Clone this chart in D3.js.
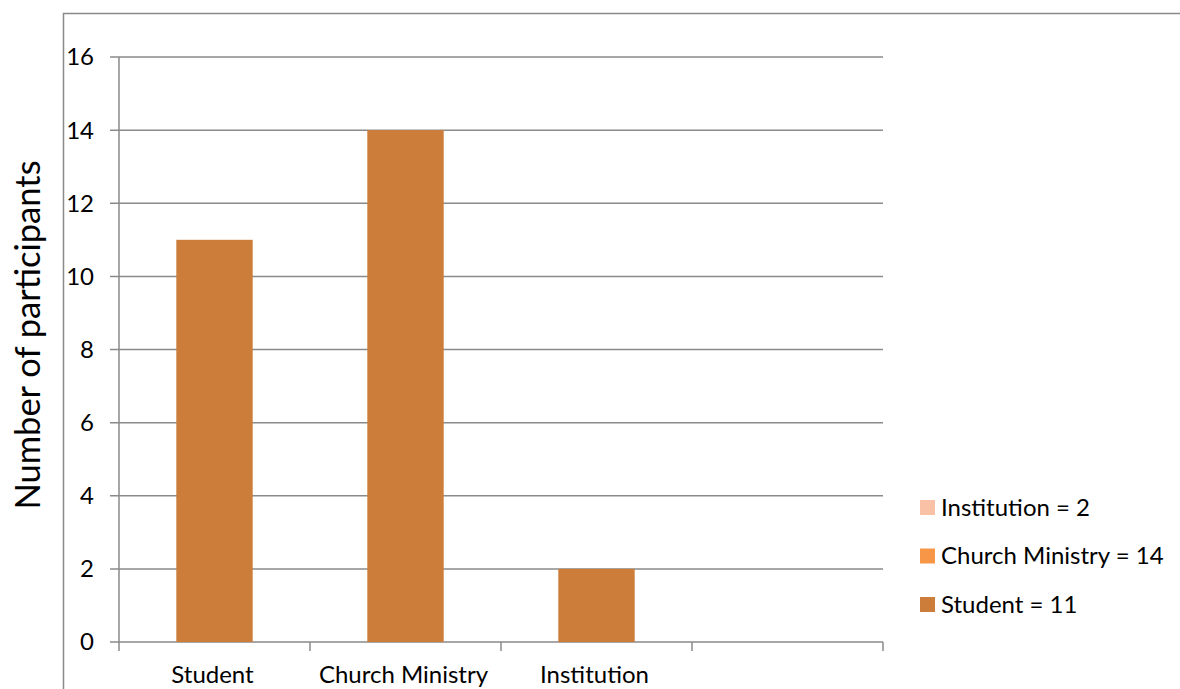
<!DOCTYPE html>
<html>
<head>
<meta charset="utf-8">
<script src="https://cdn.jsdelivr.net/npm/d3@7"></script>
<style>
  html, body { margin: 0; padding: 0; background: #fff; }
  svg { display: block; }
  text { font-family: Lato, "Open Sans", sans-serif; fill: #000; }
</style>
</head>
<body>
<svg id="chart" width="1180" height="689"></svg>
<script>
// Participants by category (fourth slot on the axis is left empty)
const categories = ["Student", "Church Ministry", "Institution", ""];
const participants = [11, 14, 2, null];
const yTicks = [0, 2, 4, 6, 8, 10, 12, 14, 16];
const legendLabels = ["Institution = 2", "Church Ministry = 14", "Student = 11"];
const legendColors = ["#f9c2a6", "#f79646", "#cd7d3a"];

(function draw() {
  const svg = d3.select("#chart");
  const plotLeft = 119, plotRight = 883, plotTop = 57, plotBottom = 642;
  const gridColor = "#8a8a8a";
  const labelSize = 24;

  // Outer chart frame (runs off the right and bottom edges)
  svg.append("path")
    .attr("d", "M63.5,700 V13.5 H1190")
    .attr("fill", "none")
    .attr("stroke", gridColor)
    .attr("stroke-width", 1.5);

  const x = d3.scaleBand().domain(categories).range([plotLeft, plotRight]).padding(0);
  const y = d3.scaleLinear().domain([0, 16]).range([plotBottom, plotTop]);

  // Horizontal gridlines with outward ticks
  svg.append("g").selectAll("line").data(yTicks).join("line")
    .attr("x1", plotLeft - 9).attr("x2", plotRight)
    .attr("y1", d => y(d)).attr("y2", d => y(d))
    .attr("stroke", gridColor).attr("stroke-width", 1.5);

  // Y axis line
  svg.append("line")
    .attr("x1", plotLeft).attr("x2", plotLeft)
    .attr("y1", plotTop).attr("y2", plotBottom)
    .attr("stroke", gridColor).attr("stroke-width", 1.5);

  // X axis category boundary ticks
  const boundaries = categories.map(c => x(c)).concat([plotRight]);
  svg.append("g").selectAll("line").data(boundaries).join("line")
    .attr("x1", d => d).attr("x2", d => d)
    .attr("y1", plotBottom).attr("y2", plotBottom + 9)
    .attr("stroke", gridColor).attr("stroke-width", 1.5);

  // Bars
  const barW = x.bandwidth() * 0.4;
  svg.append("g").selectAll("rect")
    .data(categories.map((c, i) => ({c, v: participants[i]})).filter(d => d.v != null))
    .join("rect")
    .attr("x", d => x(d.c) + x.bandwidth() / 2 - barW / 2)
    .attr("width", barW)
    .attr("y", d => y(d.v))
    .attr("height", d => y(0) - y(d.v))
    .attr("fill", "#cd7d3a");

  // Y tick labels
  svg.append("g").selectAll("text").data(yTicks).join("text")
    .attr("x", 94).attr("y", d => y(d))
    .attr("dy", "0.35em")
    .attr("text-anchor", "end")
    .attr("font-size", labelSize)
    .text(d => d);

  // X category labels
  svg.append("g").selectAll("text").data(categories).join("text")
    .attr("x", d => x(d) + x.bandwidth() / 2 - 2)
    .attr("y", 683)
    .attr("text-anchor", "middle")
    .attr("font-size", labelSize)
    .text(d => d);

  // Y axis title
  svg.append("text")
    .attr("transform", "translate(40,335) rotate(-90)")
    .attr("text-anchor", "middle")
    .attr("font-size", 34.5)
    .text("Number of participants");

  // Legend
  const legend = svg.append("g").selectAll("g").data(legendLabels).join("g")
    .attr("transform", (d, i) => `translate(920,${500 + i * 48.5})`);
  legend.append("rect")
    .attr("width", 15).attr("height", 15)
    .attr("fill", (d, i) => legendColors[i]);
  legend.append("text")
    .attr("x", 21).attr("y", 7.5).attr("dy", "0.35em")
    .attr("font-size", labelSize)
    .text(d => d);
})();
</script>
</body>
</html>
